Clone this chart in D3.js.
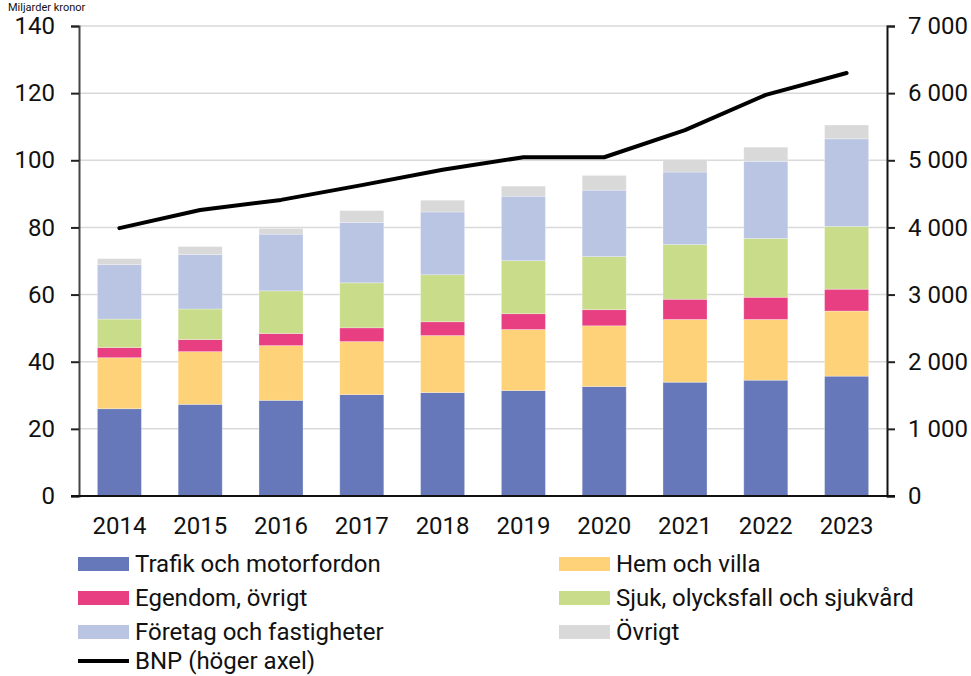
<!DOCTYPE html>
<html>
<head>
<meta charset="utf-8">
<script src="https://cdn.jsdelivr.net/npm/d3@7"></script>
<style>
  body { margin: 0; background: #fff; }
  svg { font-family: Roboto, "Liberation Sans", sans-serif; }
</style>
</head>
<body>
<script>
// data
const years = ["2014","2015","2016","2017","2018","2019","2020","2021","2022","2023"];
const trafik  = [26.0, 27.3, 28.5, 30.2, 30.8, 31.4, 32.6, 33.9, 34.5, 35.7];
const hem     = [15.2, 15.7, 16.3, 15.8, 17.0, 18.2, 18.1, 18.7, 18.1, 19.4];
const egendom = [3.0, 3.6, 3.6, 4.1, 4.1, 4.7, 4.8, 6.0, 6.6, 6.5];
const sjuk    = [8.5, 9.1, 12.7, 13.4, 14.0, 15.8, 15.8, 16.3, 17.5, 18.7];
const foretag = [16.2, 16.2, 16.9, 18.0, 18.7, 19.2, 19.8, 21.6, 23.0, 26.1];
const ovrigt  = [1.8, 2.4, 1.7, 3.5, 3.5, 3.0, 4.4, 3.7, 4.2, 4.1];
const bnp     = [3990, 4260, 4410, 4630, 4860, 5045, 5045, 5450, 5975, 6300];

const seriesNames = ["Trafik och motorfordon","Hem och villa","Egendom, övrigt",
  "Sjuk, olycksfall och sjukvård","Företag och fastigheter","Övrigt"];
const seriesData = [trafik, hem, egendom, sjuk, foretag, ovrigt];
const colors = ["#6678b9","#fed278","#e83e82","#c8dc8a","#b9c5e3","#d9d9d9"];

const leftTicks = [0,20,40,60,80,100,120,140];
const rightTicks = [0,1000,2000,3000,4000,5000,6000,7000];

const W = 971, H = 676;
const m = {left: 79, right: 887, top: 26, bottom: 496};

const svg = d3.select("body").append("svg").attr("width", W).attr("height", H);

const x = d3.scaleBand().domain(years).range([m.left, m.right]).paddingInner(0.455).paddingOuter(0.2275);
const y = d3.scaleLinear().domain([0,140]).range([m.bottom, m.top]);
const y2 = d3.scaleLinear().domain([0,7000]).range([m.bottom, m.top]);

// gridlines
svg.append("g").selectAll("line").data(leftTicks.slice(1)).join("line")
  .attr("x1", m.left).attr("x2", m.right)
  .attr("y1", d => y(d)).attr("y2", d => y(d))
  .attr("stroke", "#d9d9d9").attr("stroke-width", 1.5);

// stacked bars
const rows = years.map((yr, i) => {
  const o = {year: yr};
  seriesNames.forEach((s, j) => o[s] = seriesData[j][i]);
  return o;
});
const stacked = d3.stack().keys(seriesNames)(rows);

svg.append("g").selectAll("g").data(stacked).join("g")
  .attr("fill", (d, i) => colors[i])
  .selectAll("rect").data(d => d).join("rect")
  .attr("x", d => x(d.data.year))
  .attr("width", x.bandwidth())
  .attr("y", d => y(d[1]))
  .attr("height", d => y(d[0]) - y(d[1]))
  .attr("stroke", "#ffffff").attr("stroke-opacity", 0.35).attr("stroke-width", 0.8);

// BNP line
const line = d3.line().x((d, i) => x(years[i]) + x.bandwidth()/2).y(d => y2(d));
svg.append("path").datum(bnp).attr("d", line)
  .attr("fill", "none").attr("stroke", "#000").attr("stroke-width", 4)
  .attr("stroke-linejoin", "round").attr("stroke-linecap", "round");

// axes
const axL = svg.append("g").attr("transform", `translate(${m.left},0)`)
  .call(d3.axisLeft(y).tickValues(leftTicks).tickSize(8).tickPadding(16));
const axR = svg.append("g").attr("transform", `translate(${m.right},0)`)
  .call(d3.axisRight(y2).tickValues(rightTicks).tickSize(8).tickPadding(13)
    .tickFormat(d => d3.format(",")(d).replace(/,/g, " ")));
const axB = svg.append("g").attr("transform", `translate(0,${m.bottom})`)
  .call(d3.axisBottom(x).tickSize(0).tickPadding(21));

[axL, axR, axB].forEach(a => {
  a.selectAll("text").attr("font-size", 24).attr("fill", "#111").attr("font-family", "Roboto, sans-serif");
  a.selectAll("line").attr("stroke", "#222").attr("stroke-width", 2);
});
axL.select(".domain").attr("stroke", "#444").attr("stroke-width", 2);
axR.select(".domain").attr("stroke", "#111").attr("stroke-width", 2);
axB.select(".domain").remove();
svg.append("line").attr("x1", 71).attr("x2", 895).attr("y1", m.bottom).attr("y2", m.bottom)
  .attr("stroke", "#111").attr("stroke-width", 2);

// unit label at the top left
svg.append("text").attr("x", 8).attr("y", 10.5).attr("font-size", 11).attr("fill", "#111").text("Miljarder kronor");

// legend
const legItems = [
  {name: seriesNames[0], color: colors[0], col: 0, row: 0},
  {name: seriesNames[1], color: colors[1], col: 1, row: 0},
  {name: seriesNames[2], color: colors[2], col: 0, row: 1},
  {name: seriesNames[3], color: colors[3], col: 1, row: 1},
  {name: seriesNames[4], color: colors[4], col: 0, row: 2},
  {name: seriesNames[5], color: colors[5], col: 1, row: 2},
  {name: "BNP (höger axel)", color: "#000", col: 0, row: 3, line: true}
];
const colX = [78, 559], rowY = [564, 598, 632, 661];
const leg = svg.append("g").selectAll("g").data(legItems).join("g")
  .attr("transform", d => `translate(${colX[d.col]},${rowY[d.row]})`);
leg.filter(d => !d.line).append("rect")
  .attr("x", 0).attr("y", -7).attr("width", 51).attr("height", 14).attr("fill", d => d.color);
leg.filter(d => d.line).append("line")
  .attr("x1", 0).attr("x2", 51).attr("y1", 0).attr("y2", 0)
  .attr("stroke", "#000").attr("stroke-width", 4);
leg.append("text").attr("x", 57).attr("y", 0).attr("dy", "0.35em")
  .attr("font-size", 24).attr("fill", "#111").text(d => d.name);
</script>
</body>
</html>
